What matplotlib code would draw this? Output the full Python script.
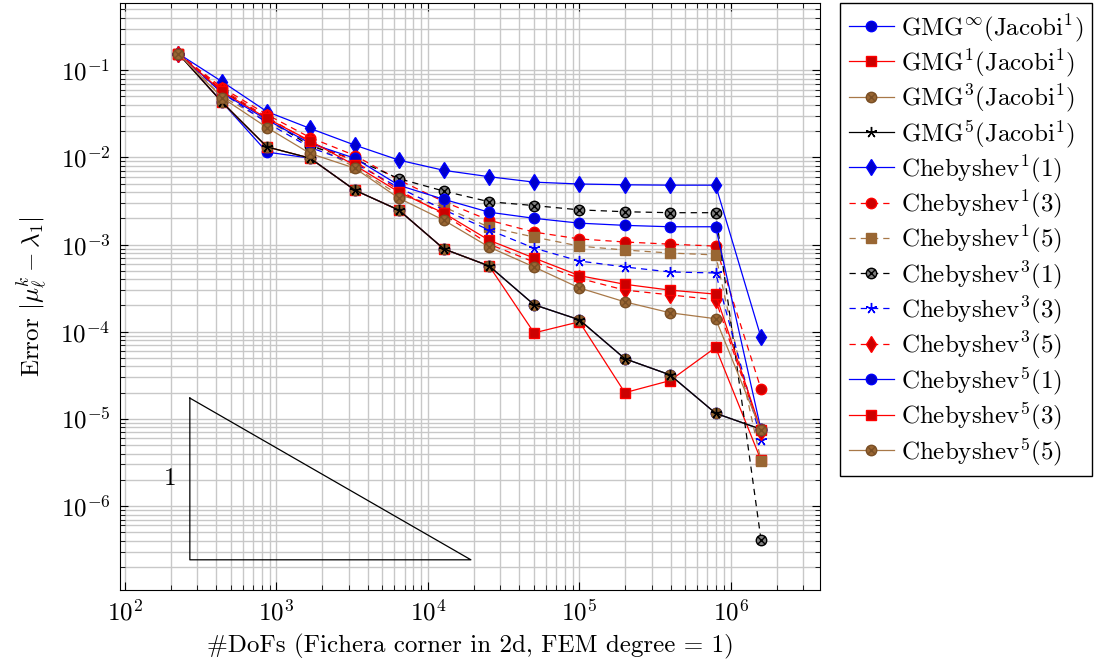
import numpy as np
import matplotlib
matplotlib.use("Agg")
import matplotlib.pyplot as plt
from matplotlib.path import Path
from matplotlib.ticker import NullFormatter

plt.rcParams['font.family'] = 'serif'
plt.rcParams['font.serif'] = ['cmr10']
plt.rcParams['mathtext.fontset'] = 'cm'
plt.rcParams['axes.formatter.use_mathtext'] = True

dofs = [225, 437, 865, 1665, 3297, 6433, 12737, 25345, 50177, 99841, 199425, 396033, 792065, 1579009]

gmg_inf = [0.155, 0.043, 0.0115, 0.0098, 0.0042, 0.00248, 0.00089, 0.000568, 0.000204, 0.000137, 4.9e-5, 3.2e-5, 1.16e-5, 7.6e-6]
gmg_1 = [0.155, 0.043, 0.0132, 0.0098, 0.0042, 0.00248, 0.00089, 0.000568, 9.7e-5, 0.00013, 2.0e-5, 2.75e-5, 6.6e-5, 3.36e-6]
gmg_3 = [0.155, 0.043, 0.0132, 0.0098, 0.0042, 0.00248, 0.00089, 0.000568, 0.000204, 0.000137, 4.9e-5, 3.2e-5, 1.16e-5, 7.6e-6]
gmg_5 = [0.155, 0.043, 0.0132, 0.0098, 0.0042, 0.00248, 0.00089, 0.000568, 0.000204, 0.000137, 4.9e-5, 3.2e-5, 1.16e-5, 7.6e-6]
cheb1_1 = [0.155, 0.074, 0.0335, 0.0215, 0.0138, 0.0093, 0.0071, 0.006, 0.0052, 0.00495, 0.00485, 0.0048, 0.0048, 8.6e-5]
cheb1_3 = [0.155, 0.063, 0.031, 0.0169, 0.0105, 0.0055, 0.0031, 0.0019, 0.00139, 0.00116, 0.00107, 0.00101, 0.00096, 2.2e-5]
cheb1_5 = [0.155, 0.05, 0.026, 0.0145, 0.0077, 0.0037, 0.0027, 0.00158, 0.00122, 0.00096, 0.000865, 0.0008, 0.00076, 3.3e-6]
cheb3_1 = [0.155, 0.058, 0.028, 0.0135, 0.0095, 0.0057, 0.0041, 0.0031, 0.0028, 0.0025, 0.00238, 0.00232, 0.00232, 4.1e-7]
cheb3_3 = [0.155, 0.055, 0.025, 0.013, 0.0085, 0.0045, 0.0025, 0.00147, 0.00091, 0.000648, 0.000553, 0.000485, 0.000472, 5.8e-6]
cheb3_5 = [0.155, 0.06, 0.029, 0.015, 0.009, 0.0042, 0.0022, 0.00101, 0.00063, 0.00041, 0.0003, 0.000265, 0.000232, 7.0e-6]
cheb5_1 = [0.155, 0.055, 0.027, 0.0145, 0.00975, 0.00478, 0.0033, 0.00235, 0.002, 0.00176, 0.00166, 0.0016, 0.0016, 7.5e-6]
cheb5_3 = [0.155, 0.057, 0.028, 0.0155, 0.0081, 0.004, 0.00229, 0.00112, 0.0007, 0.00044, 0.00035, 0.0003, 0.00027, 7.4e-6]
cheb5_5 = [0.155, 0.0485, 0.022, 0.0111, 0.0075, 0.0034, 0.0019, 0.000936, 0.000553, 0.000318, 0.00022, 0.000165, 0.000141, 7.4e-6]

labels = [r"$\mathrm{GMG}^{\infty}(\mathrm{Jacobi}^{1})$",
          r"$\mathrm{GMG}^{1}(\mathrm{Jacobi}^{1})$",
          r"$\mathrm{GMG}^{3}(\mathrm{Jacobi}^{1})$",
          r"$\mathrm{GMG}^{5}(\mathrm{Jacobi}^{1})$",
          r"$\mathrm{Chebyshev}^{1}(1)$",
          r"$\mathrm{Chebyshev}^{1}(3)$",
          r"$\mathrm{Chebyshev}^{1}(5)$",
          r"$\mathrm{Chebyshev}^{3}(1)$",
          r"$\mathrm{Chebyshev}^{3}(3)$",
          r"$\mathrm{Chebyshev}^{3}(5)$",
          r"$\mathrm{Chebyshev}^{5}(1)$",
          r"$\mathrm{Chebyshev}^{5}(3)$",
          r"$\mathrm{Chebyshev}^{5}(5)$"]

# circle with a cross inside (otimes)
circ = Path.unit_circle()
c = np.sqrt(0.5)
cross = Path([(-c, -c), (c, c), (-c, c), (c, -c)],
             [Path.MOVETO, Path.LINETO, Path.MOVETO, Path.LINETO])
otimes = Path.make_compound_path(circ, cross)

blue, red, brown, black = '#0000ff', '#ff0000', '#a87848', '#000000'
bfill, rfill, brfill = '#0000cc', '#cc0000', '#996633'
dash = (0, (5, 4))

styles = [
    dict(color=blue, ls='-', marker='o', mfc=bfill, mec=blue, ms=7.5),
    dict(color=red, ls='-', marker='s', mfc=rfill, mec=red, ms=7),
    dict(color=brown, ls='-', marker=otimes, mfc=brfill, mec='#7a4f25', ms=7.5),
    dict(color=black, ls='-', marker=(5, 2, 0), mfc='k', mec='k', ms=8),
    dict(color=blue, ls='-', marker='d', mfc=bfill, mec=blue, ms=8),
    dict(color=red, ls=dash, marker='o', mfc=rfill, mec=red, ms=7.5),
    dict(color=brown, ls=dash, marker='s', mfc=brfill, mec=brfill, ms=7),
    dict(color=black, ls=dash, marker=otimes, mfc='#808080', mec='k', ms=7.5),
    dict(color=blue, ls=dash, marker=(5, 2, 0), mfc=blue, mec=blue, ms=8),
    dict(color=red, ls=dash, marker='d', mfc=rfill, mec=red, ms=8),
    dict(color=blue, ls='-', marker='o', mfc=bfill, mec=blue, ms=7.5),
    dict(color=red, ls='-', marker='s', mfc=rfill, mec=red, ms=7),
    dict(color=brown, ls='-', marker=otimes, mfc=brfill, mec='#7a4f25', ms=7.5),
]

series = [gmg_inf, gmg_1, gmg_3, gmg_5, cheb1_1, cheb1_3, cheb1_5,
          cheb3_1, cheb3_3, cheb3_5, cheb5_1, cheb5_3, cheb5_5]

fs = 18

fig = plt.figure(figsize=(11.08, 6.68), dpi=100)
ax = fig.add_axes([120/1108, 1-590/668, 700/1108, 587/668])

for vals, lab, st in zip(series, labels, styles):
    ax.plot(dofs, vals, label=lab, lw=0.9, **st)

# slope triangle
tx0, tx1 = 268, 19200
ty1 = 2.42e-7
ty0 = ty1 * tx1 / tx0
ax.plot([tx0, tx0, tx1, tx0], [ty0, ty1, ty1, ty0], color='k', lw=0.9)
ax.text(tx0 * 0.82, np.sqrt(ty0 * ty1), "1", ha='right', va='center', fontsize=fs)

ax.set_xscale('log')
ax.set_yscale('log')
ax.set_xlim(92.7, 3.87e6)
ax.set_ylim(1.09e-7, 0.59)
ax.xaxis.set_minor_formatter(NullFormatter())
ax.yaxis.set_minor_formatter(NullFormatter())
ax.grid(True, which='both', color='#c8c8c8', lw=1.0)
ax.set_axisbelow(True)
ax.tick_params(which='both', direction='in', top=True, right=True, labelsize=fs)
ax.tick_params(which='major', length=6, pad=7)
ax.tick_params(which='minor', length=3.5)
ax.set_xlabel("#DoFs (Fichera corner in 2d, FEM degree = 1)", fontsize=fs, labelpad=6)
ax.set_ylabel(r"Error $|\mu_\ell^k - \lambda_1|$", fontsize=fs, labelpad=8)

leg = fig.legend(loc='upper left', bbox_to_anchor=(840/1108, 1-3/668), fontsize=fs,
                 numpoints=1, handlelength=1.8, handletextpad=0.3, labelspacing=0.14,
                 borderaxespad=0, frameon=True, fancybox=False, edgecolor='k',
                 framealpha=1, borderpad=0.35)
leg.get_frame().set_linewidth(1.0)

fig.savefig("out.png", dpi=100)
